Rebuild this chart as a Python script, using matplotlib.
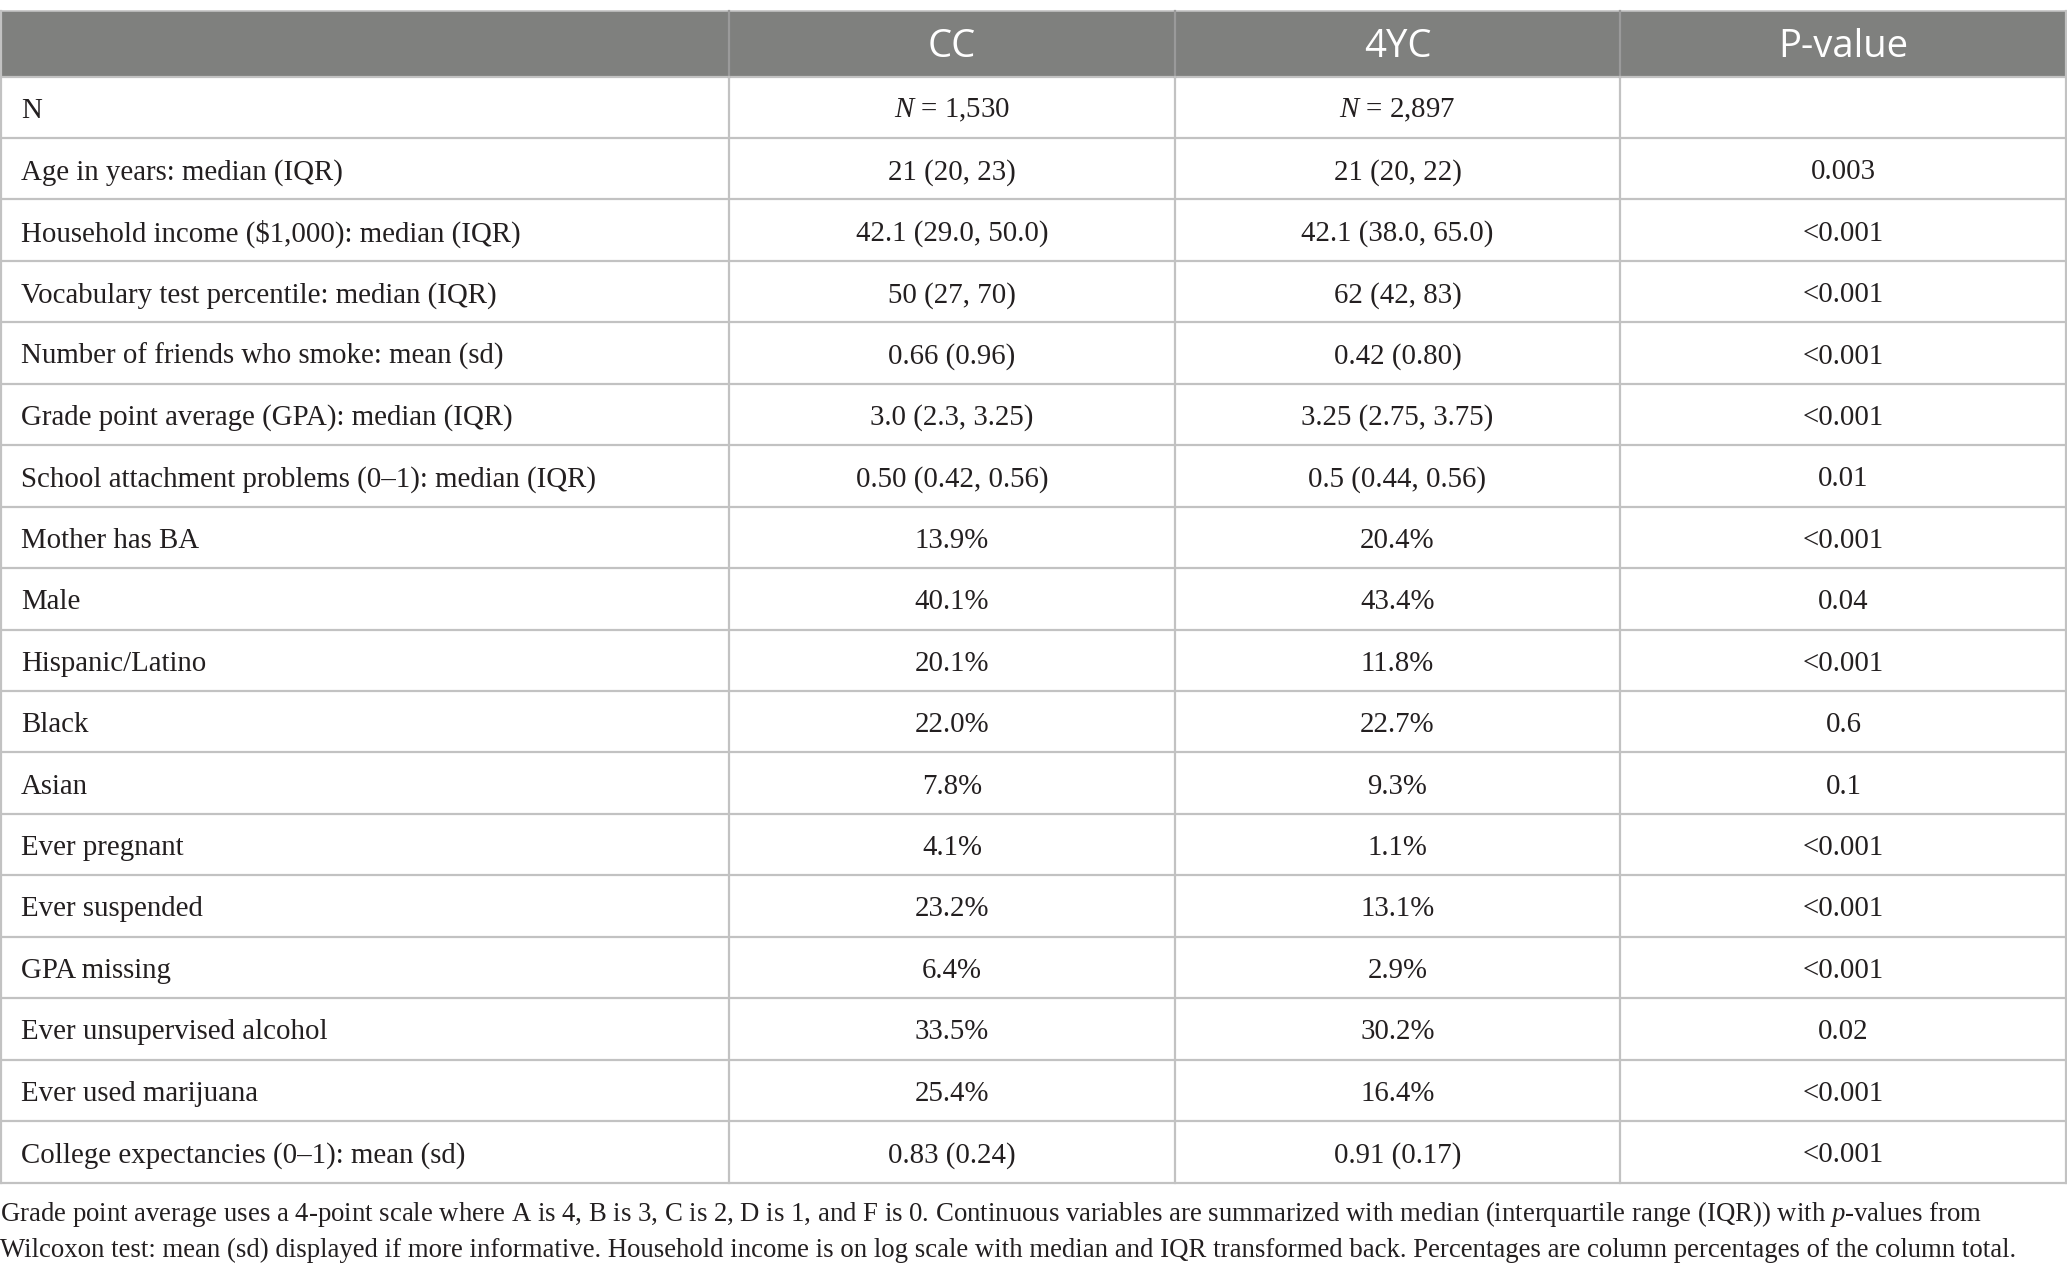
import matplotlib
matplotlib.use("Agg")
import matplotlib.pyplot as plt

plt.rcParams['mathtext.fontset'] = 'custom'
plt.rcParams['mathtext.rm'] = 'Liberation Serif'
plt.rcParams['mathtext.it'] = 'Liberation Serif:italic'

columns = ["", "CC", "4YC", "P-value"]
row_labels = [
    "N",
    "Age in years: median (IQR)",
    "Household income ($1,000): median (IQR)",
    "Vocabulary test percentile: median (IQR)",
    "Number of friends who smoke: mean (sd)",
    "Grade point average (GPA): median (IQR)",
    "School attachment problems (0\u20131): median (IQR)",
    "Mother has BA",
    "Male",
    "Hispanic/Latino",
    "Black",
    "Asian",
    "Ever pregnant",
    "Ever suspended",
    "GPA missing",
    "Ever unsupervised alcohol",
    "Ever used marijuana",
    "College expectancies (0\u20131): mean (sd)",
]
cc_values = [
    "$N$ = 1,530", "21 (20, 23)", "42.1 (29.0, 50.0)", "50 (27, 70)",
    "0.66 (0.96)", "3.0 (2.3, 3.25)", "0.50 (0.42, 0.56)", "13.9%", "40.1%",
    "20.1%", "22.0%", "7.8%", "4.1%", "23.2%", "6.4%", "33.5%", "25.4%",
    "0.83 (0.24)",
]
fyc_values = [
    "$N$ = 2,897", "21 (20, 22)", "42.1 (38.0, 65.0)", "62 (42, 83)",
    "0.42 (0.80)", "3.25 (2.75, 3.75)", "0.5 (0.44, 0.56)", "20.4%", "43.4%",
    "11.8%", "22.7%", "9.3%", "1.1%", "13.1%", "2.9%", "30.2%", "16.4%",
    "0.91 (0.17)",
]
p_values = [
    "", "0.003", "<0.001", "<0.001", "<0.001", "<0.001", "0.01", "<0.001",
    "0.04", "<0.001", "0.6", "0.1", "<0.001", "<0.001", "<0.001", "0.02",
    "<0.001", "<0.001",
]
footnote_lines = [
    "Grade point average uses a 4-point scale where A is 4, B is 3, C is 2, D is 1, and F is 0. "
    "Continuous variables are summarized with median (interquartile range (IQR)) with $p$-values from",
    "Wilcoxon test: mean (sd) displayed if more informative. Household income is on log scale with "
    "median and IQR transformed back. Percentages are column percentages of the column total.",
]

W, H = 2067, 1275
fig = plt.figure(figsize=(W / 100, H / 100), dpi=100)
ax = fig.add_axes([0, 0, 1, 1])
ax.set_xlim(0, W)
ax.set_ylim(H, 0)
ax.axis("off")

col_edges = [0, 729, 1175, 1620, W]
top = 10.5
head_bot = 76.5
tab_bot = 1182.5
n = len(row_labels)
rh = (tab_bot - head_bot) / n

header_color = "#7f807e"
line_color = "#c2c2c2"
text_color = "#231f20"
serif = "Liberation Serif"
body_size = 20.8

# header background
ax.add_patch(plt.Rectangle((0, top), W, head_bot - top, facecolor=header_color,
                           edgecolor="none", zorder=1))
for i, c in enumerate(columns):
    if c:
        xc = (col_edges[i] + col_edges[i + 1]) / 2
        ax.text(xc, (top + head_bot) / 2 + 3.5, c, color="white", fontsize=27.5,
                family="Open Sans", ha="center", va="center", zorder=3)

# grid lines
for j in range(n + 1):
    y = head_bot + j * rh
    ax.plot([0, W], [y, y], color=line_color, lw=1.6, zorder=2,
            solid_capstyle="butt")
ax.plot([0, W], [top, top], color=line_color, lw=1.2, zorder=2)
for x in col_edges[1:-1]:
    ax.plot([x, x], [top, head_bot], color="#9a9a9a", lw=1.6, zorder=2)
    ax.plot([x, x], [head_bot, tab_bot], color=line_color, lw=1.6, zorder=2)
ax.plot([0.8, 0.8], [top, tab_bot], color=line_color, lw=1.6, zorder=2)
ax.plot([W - 0.8, W - 0.8], [top, tab_bot], color=line_color, lw=1.6, zorder=2)

# body text
for j in range(n):
    yc = head_bot + (j + 0.5) * rh + 3.5
    ax.text(21, yc, row_labels[j], fontsize=body_size, family=serif,
            ha="left", va="center", color=text_color, zorder=3)
    for k, vals in enumerate([cc_values, fyc_values, p_values]):
        xc = (col_edges[k + 1] + col_edges[k + 2]) / 2
        if vals[j]:
            ax.text(xc, yc, vals[j], fontsize=body_size, family=serif,
                    ha="center", va="center", color=text_color, zorder=3)

# footnote
for i, line in enumerate(footnote_lines):
    ax.text(0, 1214 + i * 36, line, fontsize=19.3, family=serif,
            ha="left", va="center", color=text_color)

fig.savefig("out.png", dpi=100)
